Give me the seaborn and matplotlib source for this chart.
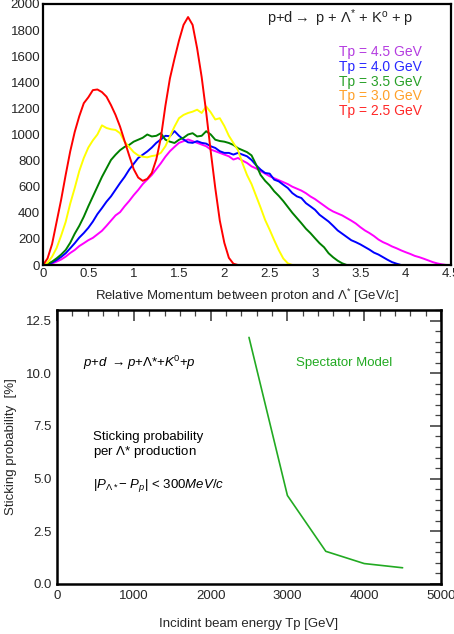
import numpy as np
import pandas as pd
import matplotlib
matplotlib.use("Agg")
import matplotlib.pyplot as plt
import seaborn as sns
from matplotlib.ticker import MultipleLocator, FormatStrFormatter

# ---------------- data ----------------
momentum = [round(0.05 * i, 2) for i in range(91)]  # GeV/c, 0.00 .. 4.50

counts_25 = [0, 50, 160, 330, 500, 690, 870, 1020, 1140, 1240,
             1285, 1340, 1345, 1325, 1290, 1225, 1150, 1060, 950, 840,
             735, 670, 645, 660, 705, 810, 975, 1220, 1430, 1580,
             1720, 1840, 1900, 1840, 1660, 1440, 1170, 870, 590, 340,
             170, 55, 10] + [0] * 48
counts_30 = [0, 18, 64, 130, 225, 330, 470, 590, 720, 820,
             900, 955, 1000, 1070, 1050, 1040, 1035, 1010, 945, 905,
             865, 840, 830, 825, 835, 840, 860, 910, 985, 1060,
             1125, 1150, 1165, 1175, 1190, 1165, 1215, 1170, 1115, 1125,
             1065, 990, 935, 880, 780, 690, 620, 530, 440, 345,
             270, 190, 115, 50, 13] + [0] * 36
counts_35 = [0, 8, 26, 51, 80, 115, 170, 240, 300, 370,
             450, 525, 600, 675, 740, 805, 845, 880, 905, 920,
             945, 960, 975, 1000, 985, 990, 1010, 960, 945, 935,
             960, 975, 1000, 1010, 985, 990, 1025, 1000, 960, 950,
             945, 935, 920, 895, 880, 865, 840, 770, 690, 645,
             610, 565, 530, 490, 445, 400, 360, 320, 278, 244,
             205, 167, 136, 90, 59, 33, 13] + [0] * 24
counts_40 = [0, 5, 18, 38, 62, 90, 128, 167, 210, 245,
             285, 333, 390, 436, 485, 526, 577, 628, 675, 730,
             775, 820, 845, 870, 900, 936, 962, 990, 987, 1026,
             990, 962, 940, 936, 949, 936, 930, 910, 897, 872,
             859, 859, 846, 859, 846, 833, 805, 765, 731, 705,
             700, 654, 641, 615, 590, 551, 526, 513, 474, 449,
             423, 385, 359, 333, 300, 265, 240, 215, 190, 175,
             158, 138, 118, 95, 80, 60, 40, 22, 10] + [0] * 12
counts_45 = [0, 3, 12, 26, 42, 64, 92, 115, 145, 167,
             190, 208, 235, 262, 300, 340, 380, 405, 450, 490,
             535, 575, 620, 655, 690, 735, 780, 830, 872, 905,
             936, 949, 962, 949, 936, 923, 910, 885, 872, 859,
             846, 833, 808, 820, 800, 782, 756, 740, 720, 700,
             680, 665, 650, 635, 620, 600, 585, 570, 550, 525,
             505, 480, 455, 430, 410, 395, 380, 360, 340, 318,
             290, 265, 245, 222, 195, 175, 160, 142, 128, 112,
             98, 85, 70, 60, 48, 35, 22, 12, 5, 0, 0]

series_names = ["Tp = 4.5 GeV", "Tp = 4.0 GeV", "Tp = 3.5 GeV", "Tp = 3.0 GeV", "Tp = 2.5 GeV"]
series_values = [counts_45, counts_40, counts_35, counts_30, counts_25]
line_colors = ["#ff00ff", "#0000ff", "#008000", "#ffff00", "#ff0000"]
label_colors = ["#b43ce0", "#2828ff", "#28a028", "#ffa028", "#ff2828"]

beam_energy = [2500, 3000, 3500, 4000, 4500]          # GeV (as labelled)
sticking_prob = [11.7, 4.2, 1.55, 0.97, 0.77]          # %

# ---------------- style ----------------
sns.set_theme(style="white")
plt.rcParams["font.family"] = ["Liberation Sans", "DejaVu Sans"]
plt.rcParams["mathtext.fontset"] = "custom"
plt.rcParams["mathtext.rm"] = "Liberation Sans"
plt.rcParams["mathtext.it"] = "Liberation Sans:italic"
plt.rcParams["mathtext.sf"] = "Liberation Sans"

W, H = 454, 634
fig = plt.figure(figsize=(W / 100, H / 100), dpi=100)
fig.patch.set_facecolor("white")

def ax_rect(l, t, r, b):
    return [l / W, 1 - b / H, (r - l) / W, (b - t) / H]

# ---------------- top panel ----------------
ax1 = fig.add_axes(ax_rect(43, 4, 451, 265))
frames = []
for name, vals in zip(series_names, series_values):
    frames.append(pd.DataFrame({"momentum": momentum, "counts": vals, "Tp": name}))
df = pd.concat(frames, ignore_index=True)
sns.lineplot(data=df, x="momentum", y="counts", hue="Tp", hue_order=series_names,
             palette=dict(zip(series_names, line_colors)), linewidth=1.4,
             legend=False, ax=ax1, sort=False)
ax1.set_xlim(0, 4.5)
ax1.set_ylim(0, 2000)
ax1.xaxis.set_major_locator(MultipleLocator(0.5))
ax1.xaxis.set_minor_locator(MultipleLocator(0.1))
ax1.xaxis.set_major_formatter(FormatStrFormatter("%g"))
ax1.yaxis.set_major_locator(MultipleLocator(200))
ax1.yaxis.set_minor_locator(MultipleLocator(40))
ax1.tick_params(which="both", direction="in", top=False, right=False, labelsize=9.5,
                color="#555555", pad=2)
ax1.tick_params(which="major", length=7, width=1.0)
ax1.tick_params(which="minor", length=3.5, width=0.8)
for sp in ax1.spines.values():
    sp.set_color("black")
    sp.set_linewidth(1.6)
ax1.set_xlabel(r"Relative Momentum between proton and $\Lambda^{*}$ [GeV/c]", fontsize=9.5,
               labelpad=5)
ax1.set_ylabel("")
ax1.text(0.549, 0.945, r"p+d$\rightarrow$ p + $\Lambda^{*}$ + K$^{\mathrm{o}}$ + p",
         transform=ax1.transAxes, fontsize=10.5, ha="left", va="center", color="#222222")
for i, (name, c) in enumerate(zip(series_names, label_colors)):
    ax1.text(0.929, 0.816 - i * 0.0565, name, transform=ax1.transAxes, fontsize=10,
             ha="right", va="center", color=c)

# ---------------- bottom panel ----------------
ax2 = fig.add_axes(ax_rect(57, 310, 441, 584))
dfb = pd.DataFrame({"Tp": beam_energy, "prob": sticking_prob})
sns.lineplot(data=dfb, x="Tp", y="prob", color="#22aa22", linewidth=1.2, ax=ax2)
ax2.set_xlim(0, 5000)
ax2.set_ylim(0, 13)
ax2.xaxis.set_major_locator(MultipleLocator(1000))
ax2.xaxis.set_minor_locator(MultipleLocator(200))
ax2.yaxis.set_major_locator(MultipleLocator(2.5))
ax2.yaxis.set_minor_locator(MultipleLocator(0.5))
ax2.yaxis.set_major_formatter(FormatStrFormatter("%.1f"))
ax2.tick_params(which="both", direction="in", top=True, right=True, labelsize=9.5,
                color="#444444", pad=4)
ax2.tick_params(which="major", length=8, width=1.2)
ax2.tick_params(which="minor", length=4, width=0.9)
for sp in ax2.spines.values():
    sp.set_color("black")
    sp.set_linewidth(1.8)
ax2.set_xlabel("Incidint beam energy Tp [GeV]", fontsize=9.5, labelpad=12)
ax2.set_ylabel("Sticking probability  [%]", fontsize=9.5, labelpad=6)

ax2.text(0.068, 0.807, r"$p$+$d$ $\rightarrow$$p$+$\Lambda$*+$K^{0}$+$p$",
         transform=ax2.transAxes, fontsize=9.5, ha="left", va="center", color="black")
ax2.text(0.094, 0.504, "Sticking probability\nper $\\Lambda$* production",
         transform=ax2.transAxes, fontsize=9.5, ha="left", va="center",
         linespacing=1.1, color="black")
ax2.text(0.094, 0.361, r"|$P_{\Lambda*}$$-$ $P_p$| < $300MeV/c$",
         transform=ax2.transAxes, fontsize=9.5, ha="left", va="center", color="black")
ax2.text(0.622, 0.807, "Spectator Model", transform=ax2.transAxes, fontsize=9.5,
         ha="left", va="center", color="#22aa22")

fig.savefig("out.png", dpi=100, facecolor="white")
